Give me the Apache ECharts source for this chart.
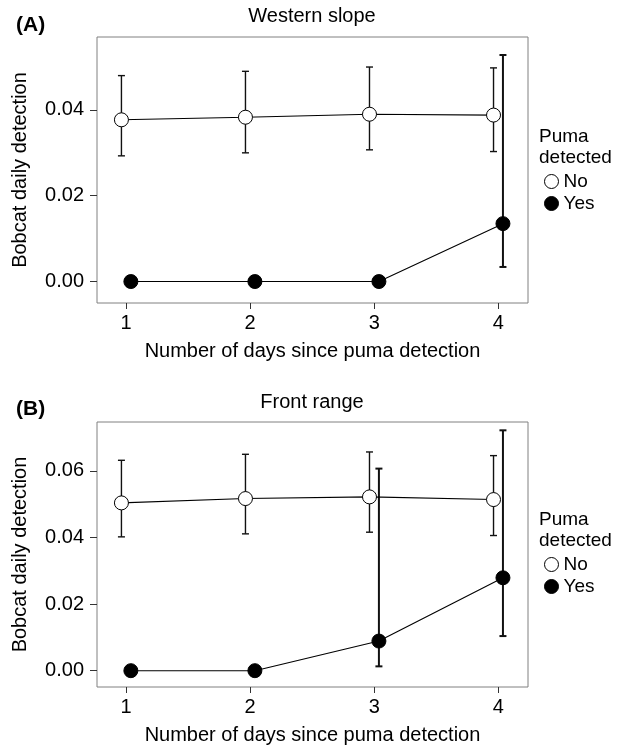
<!DOCTYPE html>
<html>
<head>
<meta charset="utf-8">
<script src="https://cdn.jsdelivr.net/npm/echarts@6/dist/echarts.min.js"></script>
<style>
html,body{margin:0;padding:0;background:#fff;}
#chart{width:624px;height:749px;}
</style>
</head>
<body>
<div id="chart"></div>
<script>
// ---- data ----
const days = [1, 2, 3, 4];
const xTicks = [1, 2, 3, 4];
const yTicksA = [0, 0.02, 0.04];
const yTicksB = [0, 0.02, 0.04, 0.06];

// Panel A: Western slope
const aNoMean  = [0.0377, 0.0383, 0.0390, 0.0388];
const aNoLow   = [0.0293, 0.0300, 0.0307, 0.0303];
const aNoHigh  = [0.0480, 0.0490, 0.0500, 0.0498];
const aYesMean = [0, 0, 0, 0.0135];
const aYesLow  = [0, 0, 0, 0.0034];
const aYesHigh = [0, 0, 0, 0.0528];

// Panel B: Front range
const bNoMean  = [0.0504, 0.0517, 0.0522, 0.0514];
const bNoLow   = [0.0402, 0.0411, 0.0416, 0.0406];
const bNoHigh  = [0.0632, 0.0650, 0.0657, 0.0646];
const bYesMean = [0, 0, 0.0089, 0.0279];
const bYesLow  = [0, 0, 0.0013, 0.0104];
const bYesHigh = [0, 0, 0.0607, 0.0722];

const dodge = 0.038;
const FONT = 'Liberation Sans, Arial, Helvetica, sans-serif';

function pts(mean, off) { return days.map((d, i) => [d + off, mean[i]]); }
function errs(low, high, off) { return days.map((d, i) => [d + off, low[i], high[i]]); }

function errSeries(name, idx, data, width) {
  return {
    name: name, type: 'custom', xAxisIndex: idx, yAxisIndex: idx, z: 1,
    data: data,
    renderItem: function (params, api) {
      const x = api.value(0), lo = api.value(1), hi = api.value(2);
      if (hi - lo <= 0) return null;
      const p1 = api.coord([x, hi]);
      const p2 = api.coord([x, lo]);
      const cw = 3.5;
      const st = { stroke: '#111', lineWidth: width };
      return {
        type: 'group',
        children: [
          { type: 'line', shape: { x1: p1[0], y1: p1[1], x2: p2[0], y2: p2[1] }, style: st },
          { type: 'line', shape: { x1: p1[0] - cw, y1: p1[1], x2: p1[0] + cw, y2: p1[1] }, style: st },
          { type: 'line', shape: { x1: p2[0] - cw, y1: p2[1], x2: p2[0] + cw, y2: p2[1] }, style: st }
        ]
      };
    }
  };
}

function lineSeries(name, idx, data, fill) {
  return {
    name: name, type: 'line', xAxisIndex: idx, yAxisIndex: idx, z: 3,
    data: data, symbol: 'circle', symbolSize: 14, showSymbol: true,
    lineStyle: { color: '#000', width: 1.1 },
    itemStyle: { color: fill, borderColor: '#000', borderWidth: 1 },
    emphasis: { disabled: true }
  };
}

function xAxis(idx) {
  return {
    type: 'value', gridIndex: idx, min: 0.765, max: 4.24,
    name: 'Number of days since puma detection', nameLocation: 'middle', nameGap: 38,
    nameTextStyle: { fontSize: 20, color: '#000', fontFamily: FONT },
    axisLine: { show: false, onZero: false },
    axisTick: { show: true, customValues: xTicks, length: 6, lineStyle: { color: '#333' } },
    axisLabel: { customValues: xTicks, fontSize: 20, color: '#000', fontFamily: FONT, margin: 10 },
    splitLine: { show: false }
  };
}
function yAxis(idx, min, max, ticks) {
  return {
    type: 'value', gridIndex: idx, min: min, max: max,
    name: 'Bobcat daily detection', nameLocation: 'middle', nameGap: 67,
    nameTextStyle: { fontSize: 20, color: '#000', fontFamily: FONT },
    axisLine: { show: false, onZero: false },
    axisTick: { show: true, customValues: ticks, length: 7, lineStyle: { color: '#333' } },
    axisLabel: { customValues: ticks, fontSize: 20, color: '#000', fontFamily: FONT, margin: 13,
      formatter: v => v.toFixed(2) },
    splitLine: { show: false }
  };
}

function legend(top) {
  return {
    orient: 'vertical', left: 539, top: top, itemWidth: 14, itemHeight: 14, itemGap: 3,
    icon: 'circle', selectedMode: false,
    textStyle: { fontSize: 19, color: '#000', fontFamily: FONT },
    data: [
      { name: 'No', itemStyle: { color: '#fff', borderColor: '#000', borderWidth: 1 } },
      { name: 'Yes', itemStyle: { color: '#000', borderColor: '#000', borderWidth: 1 } }
    ]
  };
}

const tStyle = { fontSize: 20, fontWeight: 'normal', color: '#000', fontFamily: FONT };
const bStyle = { fontSize: 21, fontWeight: 'bold', color: '#000', fontFamily: FONT };
const lStyle = { fontSize: 19, lineHeight: 21, fontWeight: 'normal', color: '#000', fontFamily: FONT };

const chart = echarts.init(document.getElementById('chart'), null, { renderer: 'canvas' });
chart.setOption({
  animation: false,
  backgroundColor: '#fff',
  title: [
    { text: '(A)', left: 16, top: 15, padding: 0, textStyle: bStyle },
    { text: 'Western slope', left: 'center', top: 6, padding: 0, textStyle: tStyle },
    { text: 'Puma\ndetected', left: 539, top: 126, padding: 0, textStyle: lStyle },
    { text: '(B)', left: 16, top: 399, padding: 0, textStyle: bStyle },
    { text: 'Front range', left: 'center', top: 392, padding: 0, textStyle: tStyle },
    { text: 'Puma\ndetected', left: 539, top: 509, padding: 0, textStyle: lStyle }
  ],
  legend: [legend(167), legend(550)],
  grid: [
    { left: 97, top: 37, width: 431, height: 266, show: true, borderColor: '#808080', borderWidth: 1, backgroundColor: 'transparent' },
    { left: 97, top: 422, width: 431, height: 265, show: true, borderColor: '#808080', borderWidth: 1, backgroundColor: 'transparent' }
  ],
  xAxis: [xAxis(0), xAxis(1)],
  yAxis: [yAxis(0, -0.005, 0.057, yTicksA), yAxis(1, -0.0049, 0.0747, yTicksB)],
  series: [
    errSeries('errNoA', 0, errs(aNoLow, aNoHigh, -dodge), 1.4),
    errSeries('errYesA', 0, errs(aYesLow, aYesHigh, dodge), 2),
    lineSeries('No', 0, pts(aNoMean, -dodge), '#fff'),
    lineSeries('Yes', 0, pts(aYesMean, dodge), '#000'),
    errSeries('errNoB', 1, errs(bNoLow, bNoHigh, -dodge), 1.4),
    errSeries('errYesB', 1, errs(bYesLow, bYesHigh, dodge), 2),
    lineSeries('No', 1, pts(bNoMean, -dodge), '#fff'),
    lineSeries('Yes', 1, pts(bYesMean, dodge), '#000')
  ]
});
</script>
</body>
</html>
